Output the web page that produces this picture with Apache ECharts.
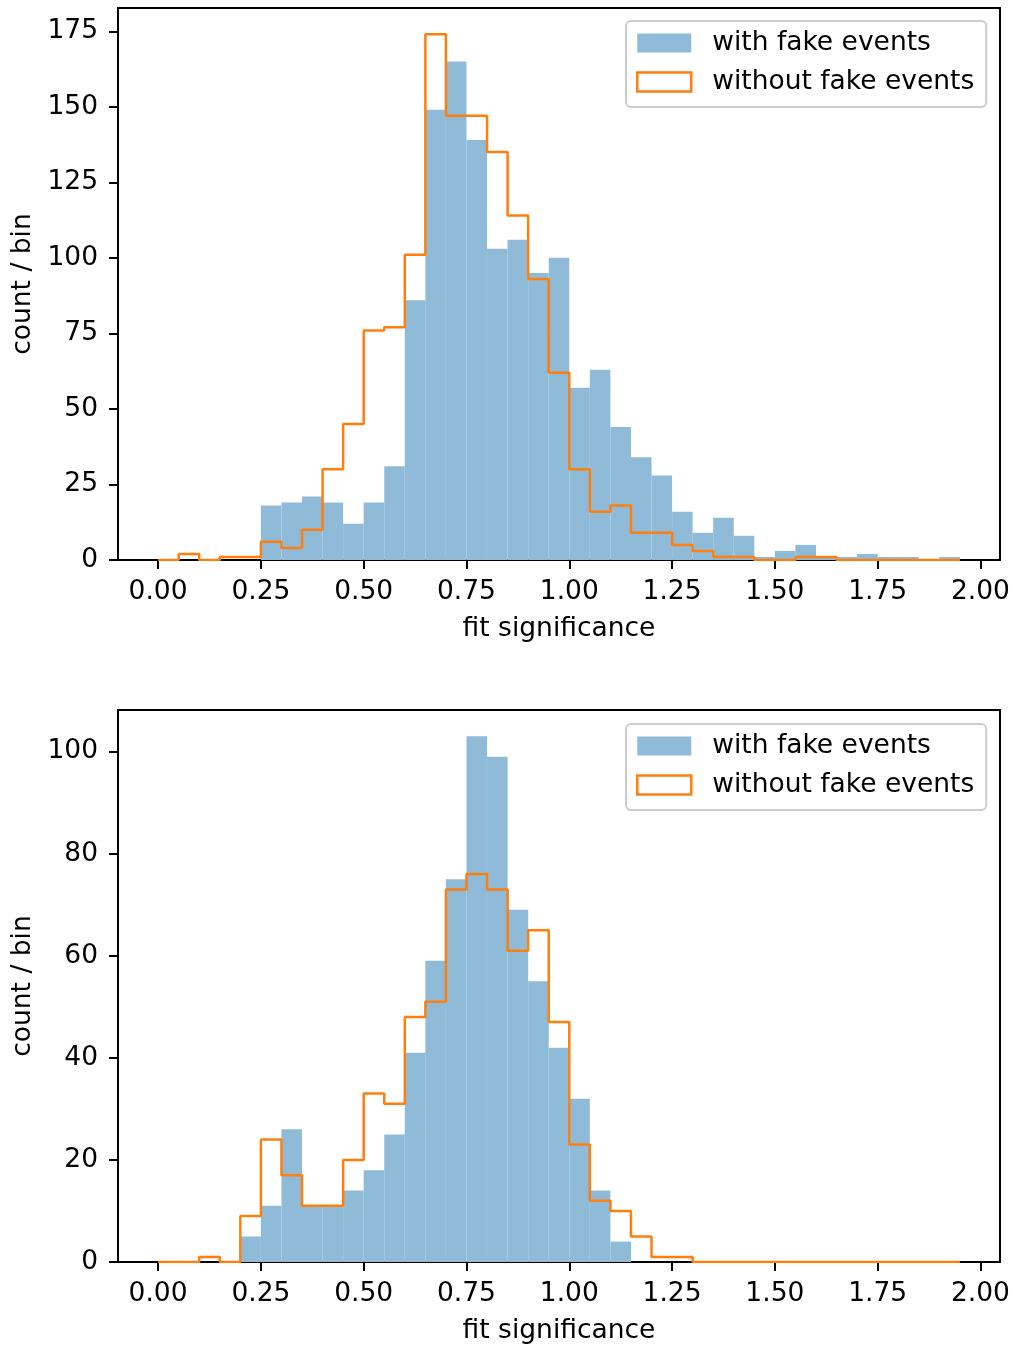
<!DOCTYPE html>
<html>
<head>
<meta charset="utf-8">
<script src="https://cdn.jsdelivr.net/npm/echarts@6/dist/echarts.min.js"></script>
<style>
  html, body { margin: 0; padding: 0; background: #fff; }
  #chart { width: 1014px; height: 1346px; }
</style>
</head>
<body>
<div id="chart"></div>
<script>
// ---- data ----
const binEdges = [0.00, 0.05, 0.10, 0.15, 0.20, 0.25, 0.30, 0.35, 0.40, 0.45,
                  0.50, 0.55, 0.60, 0.65, 0.70, 0.75, 0.80, 0.85, 0.90, 0.95,
                  1.00, 1.05, 1.10, 1.15, 1.20, 1.25, 1.30, 1.35, 1.40, 1.45,
                  1.50, 1.55, 1.60, 1.65, 1.70, 1.75, 1.80, 1.85, 1.90, 1.95];

const topWithFake    = [0, 0, 0, 0, 0, 18, 19, 21, 19, 12, 19, 31, 86, 149, 165, 139, 103, 106, 95, 100,
                        57, 63, 44, 34, 28, 16, 9, 14, 8, 1, 3, 5, 1, 1, 2, 1, 1, 0, 1];
const topWithoutFake = [0, 2, 0, 1, 1, 6, 4, 10, 30, 45, 76, 77, 101, 174, 147, 147, 135, 114, 93, 62,
                        30, 16, 18, 9, 9, 5, 3, 1, 1, 0, 0, 1, 1, 0, 0, 0, 0, 0, 0];

const bottomWithFake    = [0, 0, 0, 0, 5, 11, 26, 11, 11, 14, 18, 25, 41, 59, 75, 103, 99, 69, 55, 42,
                           32, 14, 4, 0, 0, 0, 0, 0, 0, 0, 0, 0, 0, 0, 0, 0, 0, 0, 0];
const bottomWithoutFake = [0, 0, 1, 0, 9, 24, 17, 11, 11, 20, 33, 31, 48, 51, 73, 76, 73, 61, 65, 47,
                           23, 12, 10, 5, 1, 1, 0, 0, 0, 0, 0, 0, 0, 0, 0, 0, 0, 0, 0];

const seriesNames = ['with fake events', 'without fake events'];
const xTicks = [0.00, 0.25, 0.50, 0.75, 1.00, 1.25, 1.50, 1.75, 2.00];
const topYTicks = [0, 25, 50, 75, 100, 125, 150, 175];
const bottomYTicks = [0, 20, 40, 60, 80, 100];
const xLabel = 'fit significance';
const yLabel = 'count / bin';

// ---- helpers ----
const FONT = 'DejaVu Sans';
const FS = 26.5;
const BLUE = '#8fbbd9';
const ORANGE = '#ff7f0e';

function barData(counts) {
  return counts.map((c, i) => [binEdges[i], binEdges[i + 1], c]);
}
function stepData(counts) {
  const pts = [[binEdges[0], 0]];
  for (let i = 0; i < counts.length; i++) {
    pts.push([binEdges[i], counts[i]]);
    pts.push([binEdges[i + 1], counts[i]]);
  }
  pts.push([binEdges[counts.length], 0]);
  return pts;
}
function renderHist(params, api) {
  const p0 = api.coord([api.value(0), api.value(2)]);
  const p1 = api.coord([api.value(1), 0]);
  return {
    type: 'rect',
    shape: { x: p0[0], y: p0[1], width: p1[0] - p0[0], height: p1[1] - p0[1] },
    style: { fill: BLUE }
  };
}
const dataMin = binEdges[0], dataMax = binEdges[binEdges.length - 1];
const xPad = 0.05 * (dataMax - dataMin);

function xAxis(gridIndex) {
  return {
    type: 'value', gridIndex,
    min: dataMin - xPad, max: dataMax + xPad,
    name: xLabel, nameLocation: 'middle', nameGap: 56,
    nameTextStyle: { fontFamily: FONT, fontSize: FS, color: '#000' },
    axisLine: { show: true, onZero: false, lineStyle: { color: '#000', width: 2 } },
    axisTick: { show: true, inside: false, length: 9, lineStyle: { color: '#000', width: 2 }, customValues: xTicks },
    axisLabel: { show: true, margin: 19, fontFamily: FONT, fontSize: FS, color: '#000',
                 customValues: xTicks, formatter: v => v.toFixed(2) },
    splitLine: { show: false }
  };
}
function yAxis(gridIndex, counts, ticks) {
  return {
    type: 'value', gridIndex,
    min: 0, max: Math.max(...counts) * 1.05,
    name: yLabel, nameLocation: 'middle', nameGap: 76, nameRotate: 90,
    nameTextStyle: { fontFamily: FONT, fontSize: FS, color: '#000' },
    axisLine: { show: true, onZero: false, lineStyle: { color: '#000', width: 2 } },
    axisTick: { show: true, inside: false, length: 9, lineStyle: { color: '#000', width: 2 }, customValues: ticks },
    axisLabel: { show: true, margin: 20, fontFamily: FONT, fontSize: FS, color: '#000', customValues: ticks,
                 padding: [6, 0, 0, 0] },
    splitLine: { show: false }
  };
}
function legend(top) {
  return {
    show: true, orient: 'vertical', left: 626, top: top,
    backgroundColor: 'rgba(255,255,255,0.8)', borderColor: '#cccccc', borderWidth: 2, borderRadius: 5,
    padding: [7, 12, 10, 10], itemGap: 9, itemWidth: 54, itemHeight: 19,
    textStyle: { fontFamily: FONT, fontSize: FS, color: '#000', lineHeight: 30, padding: [0, 0, 0, 16] },
    selectedMode: false,
    data: [
      { name: seriesNames[0], icon: 'rect', itemStyle: { color: BLUE, borderWidth: 0 } },
      { name: seriesNames[1], icon: 'rect', itemStyle: { color: '#ffffff', borderColor: ORANGE, borderWidth: 2.5 } }
    ]
  };
}

const chart = echarts.init(document.getElementById('chart'), null, { renderer: 'canvas' });
chart.setOption({
  animation: false,
  backgroundColor: '#ffffff',
  grid: [
    { left: 118, top: 8, width: 882, height: 552, show: true, borderColor: '#000', borderWidth: 2, backgroundColor: 'transparent' },
    { left: 118, top: 710, width: 882, height: 553, show: true, borderColor: '#000', borderWidth: 2, backgroundColor: 'transparent' }
  ],
  xAxis: [xAxis(0), xAxis(1)],
  yAxis: [yAxis(0, topWithoutFake, topYTicks), yAxis(1, bottomWithFake, bottomYTicks)],
  legend: [legend(21), legend(724)],
  series: [
    { name: seriesNames[0], type: 'custom', xAxisIndex: 0, yAxisIndex: 0, renderItem: renderHist,
      encode: { x: [0, 1], y: 2 }, data: barData(topWithFake), z: 2, itemStyle: { color: BLUE } },
    { name: seriesNames[1], type: 'line', xAxisIndex: 0, yAxisIndex: 0, data: stepData(topWithoutFake),
      showSymbol: false, symbol: 'none', z: 3, lineStyle: { color: ORANGE, width: 2.5 }, itemStyle: { color: ORANGE } },
    { name: seriesNames[0], type: 'custom', xAxisIndex: 1, yAxisIndex: 1, renderItem: renderHist,
      encode: { x: [0, 1], y: 2 }, data: barData(bottomWithFake), z: 2, itemStyle: { color: BLUE } },
    { name: seriesNames[1], type: 'line', xAxisIndex: 1, yAxisIndex: 1, data: stepData(bottomWithoutFake),
      showSymbol: false, symbol: 'none', z: 3, lineStyle: { color: ORANGE, width: 2.5 }, itemStyle: { color: ORANGE } }
  ]
});
</script>
</body>
</html>
